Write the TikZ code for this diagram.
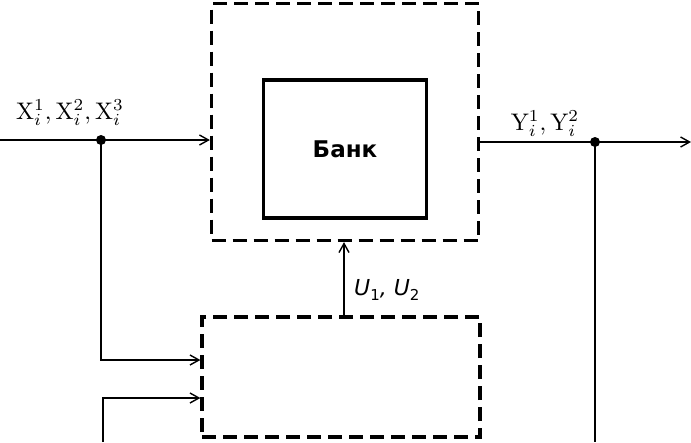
\documentclass[tikz,border=0pt]{standalone}
\usepackage{fontspec}
\newfontfamily\djvsans{DejaVu Sans}
\usepackage{tikz}
\usetikzlibrary{%
	calc,%
	arrows.meta,%
	positioning,%
}
\tikzset{
	>={Straight Barb[length=9pt,width=10pt]},%
	nodes={align=center},%
	dashbox/.style={%
			draw,%
			rectangle,%
			line width=3.2pt,%
			dash pattern=on 14pt off 7pt,%
			inner sep=0},%
	solidbox/.style={%
			draw,%
			rectangle,%
			line width=3.2pt,%
			inner sep=0,%
			font={\djvsans\bfseries\fontsize{23}{26}\selectfont}},%
	link/.style={%
			line width=1.4pt},%
	junction/.style={%
			fill,%
			circle,%
			inner sep=0,%
			minimum size=10pt},%
	sigtext/.style={%
			inner sep=0},%
}
\newcommand{\bigsig}[1]{\scalebox{2.4}{$#1$}}

\begin{document}
\begin{tikzpicture}[x=1pt, y=-1pt]%
	\useasboundingbox (0,0) rectangle (691,442);

	\node[dashbox, minimum width=267pt, minimum height=237pt] (obj) at (345,122) {};
	\node[solidbox, minimum width=163pt, minimum height=138pt] (bank) at (345,149) {Банк};
	\node[dashbox, minimum width=278pt, minimum height=120pt] (ctl) at (341,377) {};

	\coordinate (in) at (0,140);
	\coordinate (in2) at (103,442);
	\coordinate (out) at (691,142);
	\coordinate (yend) at (595,442);
	\coordinate (uline) at (344,0);
	\node[junction] (jx) at (101,140) {};
	\node[junction] (jy) at (595,142) {};

	\node[sigtext] (xlab) at (70,113) {\bigsig{\mathrm{X}_i^1, \mathrm{X}_i^2, \mathrm{X}_i^3}};
	\node[sigtext] (ylab) at (545,124) {\bigsig{\mathrm{Y}_i^1, \mathrm{Y}_i^2}};
	\node[sigtext, anchor=west] (ulab) at (354,290) {\djvsans\itshape\fontsize{22}{24}\selectfont U\raisebox{-5pt}{\upshape\fontsize{15}{15}\selectfont 1}, U\raisebox{-5pt}{\upshape\fontsize{15}{15}\selectfont 2}};

	\draw[->, link] (in) -- (in -| obj.west);
	\draw[link] (obj.east |- out) -- (jy.center);
	\draw[->, link] (jy.center) -- (out);
	\draw[link] (jy.center) -- (yend);
	\draw[->, link] (jx.center) |- ($(ctl.west)+(0,-17)$);
	\draw[->, link] (in2) |- ($(ctl.west)+(0,21)$);
	\draw[->, link] (ctl.north -| uline) -- (obj.south -| uline);
\end{tikzpicture}
\end{document}
